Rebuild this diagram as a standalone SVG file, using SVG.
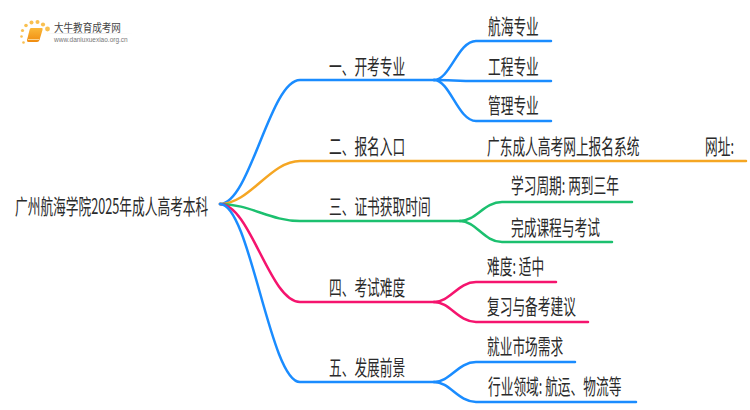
<svg xmlns="http://www.w3.org/2000/svg" width="750" height="410" viewBox="0 0 750 410">
<style>
text{font-family:"Noto Sans CJK SC","Liberation Sans",sans-serif;font-size:21px;fill:#2a2a2a}
.c{fill:none;stroke-width:2.5;stroke-linecap:round}
.b{stroke:#1a8cff}.o{stroke:#f5a623}.g{stroke:#1cc06f}.p{stroke:#f5146e}
</style>
<defs>
<linearGradient id="bk" x1="0" y1="0" x2="0" y2="1"><stop offset="0" stop-color="#fbb838"/><stop offset="1" stop-color="#f08c10"/></linearGradient>
<linearGradient id="ln"><stop offset="0" stop-color="#ddd" stop-opacity="0"/><stop offset="0.3" stop-color="#ddd"/><stop offset="1" stop-color="#ddd" stop-opacity="0"/></linearGradient>
</defs>
<rect width="750" height="410" fill="#fff"/>
<g id="logo">
<g fill="#f9c050"><circle cx="23.500" cy="42.500" r="1.300"/><circle cx="21.500" cy="36.500" r="1.300"/><circle cx="22.500" cy="30.500" r="1.600"/><circle cx="26" cy="25.500" r="1.800"/><circle cx="31.500" cy="22.500" r="2"/><circle cx="37.500" cy="22" r="2"/><circle cx="43" cy="24.500" r="2.100"/><circle cx="47.500" cy="29" r="2.400"/></g>
<path d="M31 28H42Q43 28 42.500 30L39.500 40Q39 42 37 42H28.500Q26.500 42 27 40L29.500 30Q30 28 31 28Z" fill="url(#bk)"/>
<path d="M28 39.500H39" stroke="#fde3b0" stroke-width="0.800"/>
<text transform="translate(54 31.500) scale(.87 1)" style="font-size:11px;fill:#444">大牛教育成考网</text>
<rect x="46" y="33" width="87" height="1" fill="url(#ln)"/>
<text x="54" y="41.500" style="font-family:'Liberation Sans',sans-serif;font-size:6.500px;fill:#777">www.daniuxuexiao.org.cn</text>
</g>
<g id="connectors">
<path class="c b" d="M220 204C250 204 270 80 300 80H434"/>
<path class="c o" d="M220 204C250 204 270 161 300 161H746"/>
<path class="c g" d="M220 204C250 204 270 221 300 221H460"/>
<path class="c p" d="M220 204C250 204 270 302 300 302H434"/>
<path class="c b" d="M220 204C250 204 270 382 300 382H434"/>
<path class="c b" d="M434 80C450 80 458 41 476 41H551"/>
<path class="c b" d="M434 80C450 80 458 81 476 81H551"/>
<path class="c b" d="M434 80C450 80 458 121 476 121H551"/>
<path class="c g" d="M460 221C476 221 484 202 502 202H632"/>
<path class="c g" d="M460 221C476 221 484 242 502 242H612"/>
<path class="c p" d="M434 302C450 302 458 282 476 282H556"/>
<path class="c p" d="M434 302C450 302 458 322 476 322H588"/>
<path class="c b" d="M434 382C450 382 458 362 476 362H575"/>
<path class="c b" d="M434 382C450 382 458 402 476 402H636"/>
</g>
<g id="root"><text transform="translate(15 214) scale(.605 1)">广州航海学院2025年成人高考本科</text></g>
<g id="n1"><text transform="translate(329 74) scale(.605 1)">一、开考专业</text></g>
<g id="n1a"><text transform="translate(488 34) scale(.605 1)">航海专业</text></g>
<g id="n1b"><text transform="translate(488 74) scale(.605 1)">工程专业</text></g>
<g id="n1c"><text transform="translate(488 113) scale(.605 1)">管理专业</text></g>
<g id="n2"><text transform="translate(329 154) scale(.605 1)">二、报名入口</text></g>
<g id="n2a"><text transform="translate(487 154) scale(.605 1)">广东成人高考网上报名系统</text></g>
<g id="n2b"><text transform="translate(705 154) scale(.605 1)">网址:</text></g>
<g id="n3"><text transform="translate(329 214) scale(.605 1)">三、证书获取时间</text></g>
<g id="n3a"><text transform="translate(511 193) scale(.605 1)">学习周期: 两到三年</text></g>
<g id="n3b"><text transform="translate(511 235) scale(.605 1)">完成课程与考试</text></g>
<g id="n4"><text transform="translate(329 295) scale(.605 1)">四、考试难度</text></g>
<g id="n4a"><text transform="translate(487 274) scale(.605 1)">难度: 适中</text></g>
<g id="n4b"><text transform="translate(487 314) scale(.605 1)">复习与备考建议</text></g>
<g id="n5"><text transform="translate(329 375) scale(.605 1)">五、发展前景</text></g>
<g id="n5a"><text transform="translate(487 354) scale(.605 1)">就业市场需求</text></g>
<g id="n5b"><text transform="translate(488 394) scale(.605 1)">行业领域: 航运、物流等</text></g>
</svg>
